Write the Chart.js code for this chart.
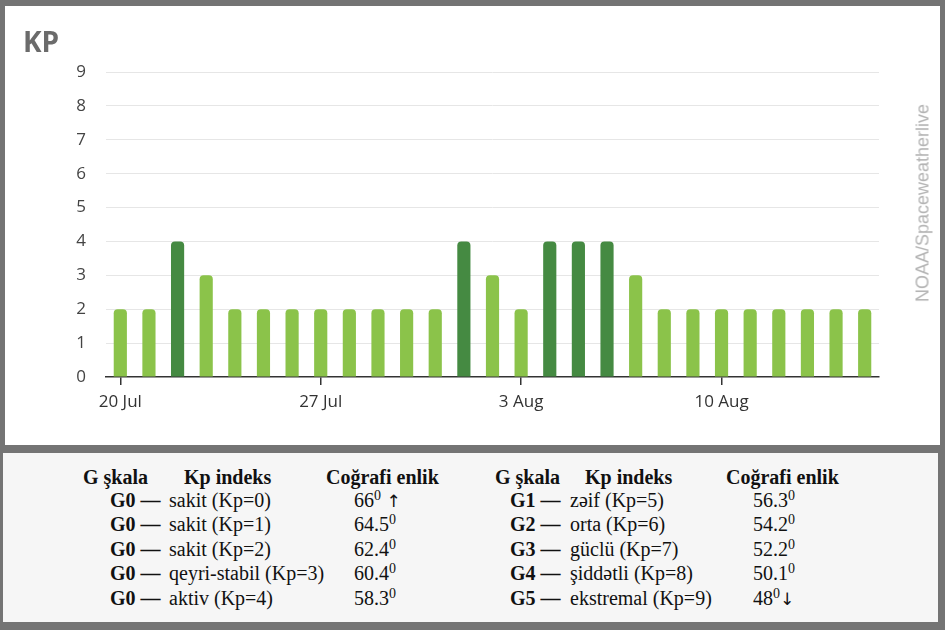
<!DOCTYPE html>
<html>
<head>
<meta charset="utf-8">
<script src="https://cdn.jsdelivr.net/npm/chart.js@4.4.1/dist/chart.umd.min.js"></script>
<style>
  html, body { margin: 0; padding: 0; }
  body { width: 945px; height: 630px; background: #747474; position: relative; overflow: hidden; }
  #panel { position: absolute; left: 5px; top: 6px; width: 935px; height: 439px; background: #fff; }
  #kp { position: absolute; left: 23px; top: 27px; font: bold 28px/28px "Open Sans", sans-serif; color: #6b6b6b; }
  #credit { position: absolute; left: 923px; top: 203px; transform: translate(-50%, -50%) rotate(-90deg);
            white-space: nowrap; font: 18px "Liberation Sans", Arial, sans-serif; color: #b3b3b3; }
  #scale { position: absolute; left: 3px; top: 453px; width: 935px; height: 169px; background: #f6f6f6; }
  .cell { position: absolute; white-space: nowrap; font: 20px/24px "Liberation Serif", "Times New Roman", serif; color: #111; }
  .b { font-weight: bold; }
  .cell sup { font-size: 14px; line-height: 0; vertical-align: 7px; }
  .arrow { font-family: "DejaVu Sans", sans-serif; font-size: 17px; color: #111; }
</style>
</head>
<body>
<div id="panel"><canvas id="kpChart"></canvas></div>
<div id="kp">KP</div>
<div id="credit">NOAA/Spaceweatherlive</div>
<div id="scale"></div>
<script>
// daily max Kp, 20 Jul - 15 Aug
const days = ['20 Jul', '21 Jul', '22 Jul', '23 Jul', '24 Jul', '25 Jul', '26 Jul', '27 Jul', '28 Jul',
    '29 Jul', '30 Jul', '31 Jul', '1 Aug', '2 Aug', '3 Aug', '4 Aug', '5 Aug', '6 Aug', '7 Aug',
    '8 Aug', '9 Aug', '10 Aug', '11 Aug', '12 Aug', '13 Aug', '14 Aug', '15 Aug'];
const kpValues = [2, 2, 4, 3, 2, 2, 2, 2, 2, 2, 2, 2, 4, 3, 2, 4, 4, 4, 3, 2, 2, 2, 2, 2, 2, 2, 2];
const tickDays = ['20 Jul', '27 Jul', '3 Aug', '10 Aug'];

// G scale table under the chart
const gCodes = ['G0 —', 'G0 —', 'G0 —', 'G0 —', 'G0 —', 'G1 —', 'G2 —', 'G3 —', 'G4 —', 'G5 —'];
const gNames = ['sakit (Kp=0)', 'sakit (Kp=1)', 'sakit (Kp=2)', 'qeyri-stabil (Kp=3)', 'aktiv (Kp=4)',
    'zəif (Kp=5)', 'orta (Kp=6)', 'güclü (Kp=7)', 'şiddətli (Kp=8)', 'ekstremal (Kp=9)'];
const latitudes = ['66', '64.5', '62.4', '60.4', '58.3', '56.3', '54.2', '52.2', '50.1', '48'];
const latArrows = [' ↑', '', '', '', '', '', '', '', '', '↓'];
const headers = ['G şkala', 'Kp indeks', 'Coğrafi enlik'];

function buildTable() {
    const box = document.getElementById('scale');
    const halves = [
        { head: [80, 181, 323], cols: [107, 166, 351] },
        { head: [492, 582, 723], cols: [507, 567, 750] }
    ];
    const add = (text, x, y, bold) => {
        const d = document.createElement('div');
        d.className = 'cell' + (bold ? ' b' : '');
        d.style.left = x + 'px';
        d.style.top = y + 'px';
        d.innerHTML = text;
        box.appendChild(d);
    };
    halves.forEach((h, side) => {
        headers.forEach((t, i) => add(t, h.head[i], 12, true));
        for (let r = 0; r < 5; r++) {
            const i = side * 5 + r;
            const y = 35 + r * 24.4;
            const arrow = latArrows[i] ? '<span class="arrow">' + latArrows[i] + '</span>' : '';
            add(gCodes[i], h.cols[0], y, true);
            add(gNames[i], h.cols[1], y, false);
            add(latitudes[i] + '<sup>0</sup>' + arrow, h.cols[2], y, false);
        }
    });
}
buildTable();

const lightGreen = '#8bc34a';
const darkGreen = '#458a42';

new Chart(document.getElementById('kpChart').getContext('2d'), {
    type: 'bar',
    data: {
        labels: days,
        datasets: [{
            data: kpValues,
            backgroundColor: ctx => (ctx.raw >= 4 ? darkGreen : lightGreen),
            borderRadius: 4,
            barPercentage: 0.46,
            categoryPercentage: 1
        }]
    },
    options: {
        responsive: true,
        maintainAspectRatio: false,
        animation: false,
        layout: { padding: { left: 0, right: 61, top: 66, bottom: 28 } },
        scales: {
            x: {
                grid: {
                    offset: false,
                    drawOnChartArea: false,
                    tickLength: 8,
                    lineWidth: 1.5,
                    color: ctx => (tickDays.includes(days[ctx.index]) ? '#333' : 'rgba(0,0,0,0)')
                },
                border: { color: '#333', width: 1.5 },
                ticks: {
                    autoSkip: false,
                    maxRotation: 0,
                    padding: 7,
                    color: '#333',
                    font: { family: 'Open Sans', size: 17 },
                    callback: (v, i) => (tickDays.includes(days[i]) ? days[i] : '')
                },
                afterFit: s => { s.height = 40; }
            },
            y: {
                min: 0,
                max: 9,
                ticks: {
                    stepSize: 1,
                    padding: 20,
                    color: '#444',
                    font: { family: 'Open Sans', size: 17 }
                },
                grid: {
                    drawTicks: false,
                    color: ctx => (ctx.tick && ctx.tick.value === 0 ? 'rgba(0,0,0,0)' : '#e6e6e6')
                },
                border: { display: false },
                afterFit: s => { s.width = 101; }
            }
        },
        plugins: {
            legend: { display: false },
            tooltip: { enabled: false }
        }
    }
});
</script>
</body>
</html>
